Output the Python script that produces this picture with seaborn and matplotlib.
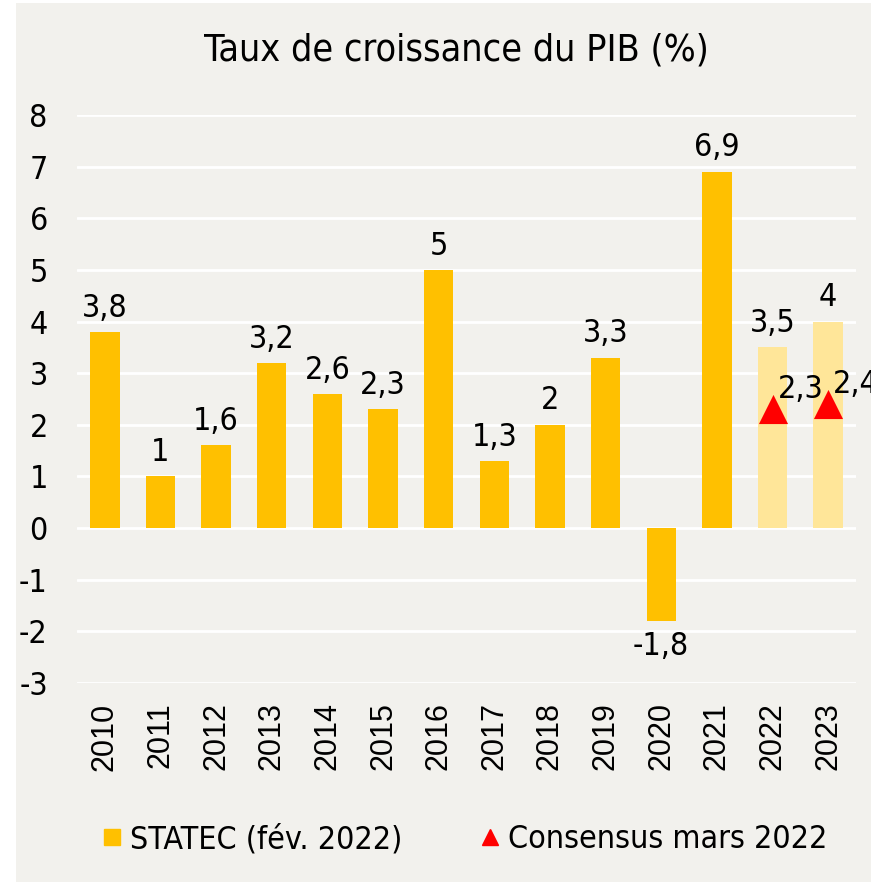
import matplotlib
matplotlib.use("Agg")
import matplotlib.pyplot as plt
from matplotlib.lines import Line2D
from matplotlib.patches import Rectangle
from matplotlib.font_manager import FontProperties
import seaborn as sns
import pandas as pd

years = ["2010", "2011", "2012", "2013", "2014", "2015", "2016", "2017",
         "2018", "2019", "2020", "2021", "2022", "2023"]
statec = [3.8, 1.0, 1.6, 3.2, 2.6, 2.3, 5.0, 1.3, 2.0, 3.3, -1.8, 6.9, 3.5, 4.0]
forecast_years = ["2022", "2023"]
consensus_years = ["2022", "2023"]
consensus = [2.3, 2.4]
yticks = [-3, -2, -1, 0, 1, 2, 3, 4, 5, 6, 7, 8]

GOLD = "#FFC000"
LIGHT = "#FFE699"
RED = "#FF0000"
BG = "#F2F1ED"

sns.set_theme(style="white")
plt.rcParams["font.family"] = ["DejaVu Sans"]
plt.rcParams["font.stretch"] = "condensed"
plt.rcParams["text.color"] = "black"
plt.rcParams["xtick.color"] = "black"
plt.rcParams["ytick.color"] = "black"

def fmt(v):
    s = f"{v:g}"
    return s.replace(".", ",")

df = pd.DataFrame({"year": years, "value": statec})
palette = {y: (LIGHT if y in forecast_years else GOLD) for y in years}

fig = plt.figure(figsize=(8.71, 8.85), dpi=100)
fig.patch.set_facecolor("white")
fig.patches.append(Rectangle((16 / 871, 0.003), 1 - 16 / 871, 1 - 0.003 - 3 / 885,
                             transform=fig.transFigure, facecolor=BG,
                             edgecolor="none", zorder=-10))
ax = fig.add_axes([77 / 871, 1 - 683 / 885, (856 - 77) / 871, (683 - 115) / 885])
ax.set_facecolor(BG)

sns.barplot(data=df, x="year", y="value", hue="year", palette=palette,
            order=years, legend=False, width=0.53, saturation=1, ax=ax,
            zorder=3, linewidth=0)

FS = 23
for i, v in enumerate(statec):
    if v >= 0:
        ax.annotate(fmt(v), (i, v), xytext=(0, 6), textcoords="offset points",
                    ha="center", va="bottom", fontsize=FS)
    else:
        ax.annotate(fmt(v), (i, v), xytext=(0, -7), textcoords="offset points",
                    ha="center", va="top", fontsize=FS)

cx = [years.index(y) for y in consensus_years]
ax.scatter(cx, consensus, marker="^", s=440, color=RED, zorder=5, linewidths=0)
for x, v in zip(cx, consensus):
    ax.annotate(fmt(v), (x, v), xytext=(20, 14.5), textcoords="offset points",
                ha="center", va="center", fontsize=FS, zorder=6,
                annotation_clip=False)

ax.set_ylim(-3, 8)
ax.set_xlim(-0.5, len(years) - 0.5)
ax.set_yticks(yticks)
ax.set_yticklabels([str(t) for t in yticks], fontsize=FS)
ax.set_xticks(range(len(years)))
xfont = FontProperties(family="Liberation Sans", stretch="normal", size=22)
ax.set_xticklabels(years, rotation=90, fontproperties=xfont)
ax.tick_params(axis="y", length=0, pad=21)
ax.tick_params(axis="x", length=0, pad=14)
ax.yaxis.grid(True, color="white", linewidth=2, zorder=0)
ax.set_axisbelow(True)
for s in ax.spines.values():
    s.set_visible(False)
ax.set_xlabel("")
ax.set_ylabel("")

fig.text(456 / 871, 1 - 50 / 885, "Taux de croissance du PIB (%)", ha="center",
         va="center", fontsize=27)

handles = [Line2D([], [], marker="s", linestyle="none", color=GOLD, markersize=11),
           Line2D([], [], marker="^", linestyle="none", color=RED, markersize=12)]
fig.legend(handles, ["STATEC (fév. 2022)", "Consensus mars 2022"], loc="center",
           bbox_to_anchor=(464 / 871, 1 - 840 / 885), ncol=2, frameon=False,
           fontsize=FS, handletextpad=0.2, columnspacing=2.4, handlelength=0.7)

fig.savefig("out.png", dpi=100, facecolor=fig.get_facecolor())
